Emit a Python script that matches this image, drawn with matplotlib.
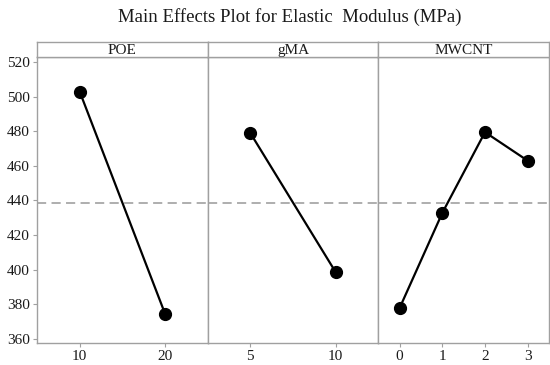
import matplotlib
matplotlib.use("Agg")
import matplotlib.pyplot as plt

# values
factors = ["POE", "gMA", "MWCNT"]
poe_levels = ["10", "20"]
poe_means = [503.0, 374.5]
gma_levels = ["5", "10"]
gma_means = [479.0, 398.5]
mwcnt_levels = ["0", "1", "2", "3"]
mwcnt_means = [377.8, 432.8, 479.5, 463.0]
grand_mean = 438.5
y_ticks = [360, 380, 400, 420, 440, 460, 480, 500, 520]

panels = [(poe_levels, poe_means), (gma_levels, gma_means), (mwcnt_levels, mwcnt_means)]

plt.rcParams["font.family"] = ["Liberation Serif", "DejaVu Serif"]
frame = "#a0a0a0"

fig = plt.figure(figsize=(5.5, 3.65), dpi=100)
W, H = 550.0, 365.0
left, right = 37, 549
top, strip_top, bottom = 57, 42, 343
pw = (right - left) / 3.0

for i, (name, (levels, means)) in enumerate(zip(factors, panels)):
    x0 = left + i * pw
    ax = fig.add_axes([x0 / W, 1 - bottom / H, pw / W, (bottom - top) / H])
    xs = list(range(len(levels)))
    ax.axhline(grand_mean, color="#999999", lw=1.1, ls=(0, (6, 3.5)), zorder=1)
    ax.plot(xs, means, color="black", lw=1.6, marker="o", ms=8.5, zorder=3)
    ax.set_xlim(-0.5, len(levels) - 0.5)
    ax.set_ylim(357.5, 523)
    ax.set_xticks(xs)
    ax.set_xticklabels(levels)
    ax.set_yticks(y_ticks)
    if i > 0:
        ax.tick_params(axis="y", left=False, labelleft=False)
    ax.tick_params(colors=frame, labelcolor="#1a1a1a", labelsize=11, length=3, width=0.8, pad=2)
    for s in ax.spines.values():
        s.set_color(frame)
        s.set_linewidth(1.0)

    sax = fig.add_axes([x0 / W, 1 - top / H, pw / W, (top - strip_top) / H])
    sax.set_xticks([])
    sax.set_yticks([])
    for s in sax.spines.values():
        s.set_color(frame)
        s.set_linewidth(1.0)
    sax.text(0.5, 0.45, name, ha="center", va="center", fontsize=11,
             color="#1a1a1a", transform=sax.transAxes)

fig.text(290 / W, 1 - 17 / H, "Main Effects Plot for Elastic  Modulus (MPa)",
         ha="center", va="center", fontsize=13.5, color="#1a1a1a")

fig.savefig("out.png", dpi=100)
